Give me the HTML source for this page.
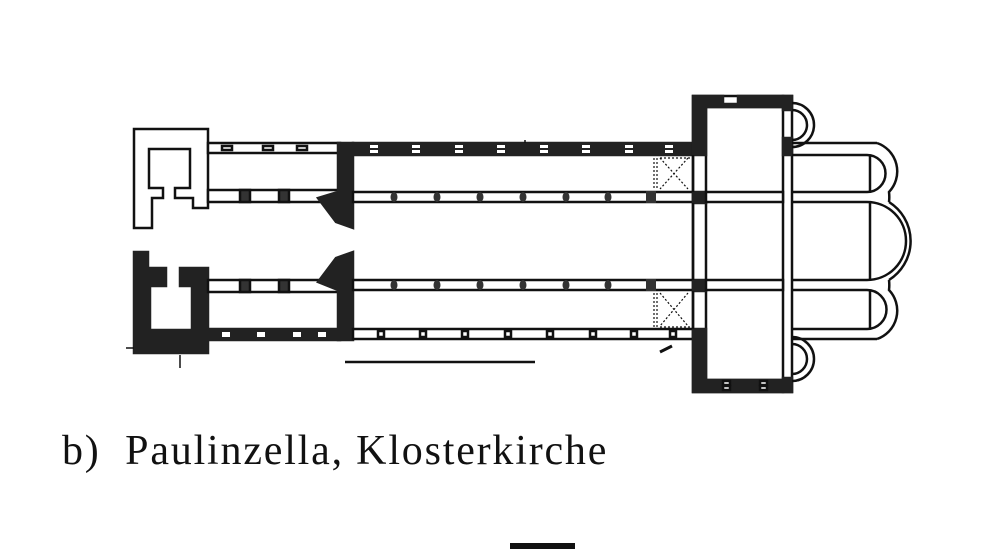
<!DOCTYPE html>
<html><head><meta charset="utf-8"><style>
html,body{margin:0;padding:0;background:#fff;width:1000px;height:550px;overflow:hidden}
svg{position:absolute;left:0;top:0}
.t{position:absolute;left:62px;top:427px;font-family:"Liberation Serif",serif;font-size:42px;color:#111;white-space:nowrap;letter-spacing:1.8px}
</style></head><body>
<svg width="1000" height="550" viewBox="0 0 1000 550" fill="none" stroke="#111" stroke-width="2.5">
<!-- west block top (outline) -->
<path d="M134 129 H208 V208 H193 V198 H175 V188 H190 V149 H149 V188 H163 V198 H152 V228 H134 Z" fill="#fff"/>
<!-- west block bottom (dark) -->
<path d="M134 252 H148 V268 H166 V286 H150 V330 H192 V286 H180 V268 H208 V353 H134 Z" fill="#222" stroke="#222"/>
<!-- upper aisle outer wall west -->
<rect x="208" y="143" width="132" height="10" fill="#fff"/>
<g fill="#fff">
<rect x="222" y="146" width="10" height="4"/><rect x="263" y="146" width="10" height="4"/><rect x="297" y="146" width="10" height="4"/>
</g>
<rect x="208" y="190" width="132" height="12" fill="#fff"/>
<rect x="240" y="190" width="10" height="12" fill="#333"/><rect x="279" y="190" width="10" height="12" fill="#333"/>
<path d="M338 143 H353 V228 L336 222 L318 198 L338 192 Z" fill="#222" stroke="#222"/>
<rect x="208" y="280" width="132" height="12" fill="#fff"/>
<rect x="240" y="280" width="10" height="12" fill="#333"/><rect x="279" y="280" width="10" height="12" fill="#333"/>
<path d="M338 340 H353 V252 L336 258 L318 282 L338 290 Z" fill="#222" stroke="#222"/>
<rect x="208" y="329" width="132" height="11" fill="#222" stroke="#222"/>
<g fill="#fff" stroke="none"><rect x="222" y="332" width="8" height="5"/><rect x="257" y="332" width="8" height="5"/><rect x="293" y="332" width="8" height="5"/><rect x="318" y="332" width="8" height="5"/></g>
<rect x="353" y="143" width="340" height="12" fill="#222" stroke="#222"/>
<g fill="#fff" stroke="none">
<rect x="370" y="145" width="8" height="3"/><rect x="370" y="150" width="8" height="3"/>
<rect x="412" y="145" width="8" height="3"/><rect x="412" y="150" width="8" height="3"/>
<rect x="455" y="145" width="8" height="3"/><rect x="455" y="150" width="8" height="3"/>
<rect x="497" y="145" width="8" height="3"/><rect x="497" y="150" width="8" height="3"/>
<rect x="540" y="145" width="8" height="3"/><rect x="540" y="150" width="8" height="3"/>
<rect x="582" y="145" width="8" height="3"/><rect x="582" y="150" width="8" height="3"/>
<rect x="625" y="145" width="8" height="3"/><rect x="625" y="150" width="8" height="3"/>
<rect x="665" y="145" width="8" height="3"/><rect x="665" y="150" width="8" height="3"/>
</g>
<rect x="353" y="192" width="340" height="10" fill="#fff"/>
<rect x="353" y="280" width="340" height="10" fill="#fff"/>
<g fill="#333" stroke="none">
<ellipse cx="394" cy="197" rx="3.5" ry="5"/><ellipse cx="437" cy="197" rx="3.5" ry="5"/><ellipse cx="480" cy="197" rx="3.5" ry="5"/><ellipse cx="523" cy="197" rx="3.5" ry="5"/><ellipse cx="566" cy="197" rx="3.5" ry="5"/><ellipse cx="608" cy="197" rx="3.5" ry="5"/>
<ellipse cx="394" cy="285" rx="3.5" ry="5"/><ellipse cx="437" cy="285" rx="3.5" ry="5"/><ellipse cx="480" cy="285" rx="3.5" ry="5"/><ellipse cx="523" cy="285" rx="3.5" ry="5"/><ellipse cx="566" cy="285" rx="3.5" ry="5"/><ellipse cx="608" cy="285" rx="3.5" ry="5"/>
<rect x="646" y="191" width="10" height="12"/><rect x="646" y="279" width="10" height="12"/>
</g>
<rect x="353" y="329" width="340" height="10" fill="#fff"/>
<g fill="#fff"><rect x="378" y="331" width="6" height="6"/><rect x="420" y="331" width="6" height="6"/><rect x="462" y="331" width="6" height="6"/><rect x="505" y="331" width="6" height="6"/><rect x="547" y="331" width="6" height="6"/><rect x="590" y="331" width="6" height="6"/><rect x="631" y="331" width="6" height="6"/><rect x="670" y="331" width="6" height="6"/></g>
<g stroke-width="1.2" stroke-dasharray="2 2">
<path d="M654 158 V190 M657 158 V190 M660 158 H690 M660 158 L688 189 M688 158 L660 189"/>
<path d="M654 293 V327 M657 293 V327 M660 327 H690 M660 293 L688 326 M688 293 L660 326"/>
</g>
<path d="M660 352 L672 346" stroke-width="3"/>
<!-- transept -->
<rect x="693" y="96" width="99" height="296" fill="#fff"/>
<rect x="706" y="107" width="77" height="273" fill="#fff"/>
<g fill="#222" stroke="#222">
<path d="M693 96 H723 V104 H738 V96 H783 V107 H706 V155 H693 Z"/>
<path d="M693 329 H706 V380 H783 V392 H693 Z"/>
<rect x="783" y="96" width="9" height="14"/>
<rect x="783" y="138" width="9" height="17"/>
<rect x="783" y="378" width="9" height="14"/>
</g>
<rect x="693" y="192" width="13" height="11" fill="#222" stroke="#222"/>
<rect x="693" y="280" width="13" height="11" fill="#222" stroke="#222"/>
<path d="M693 155 V192 M693 203 V280 M693 291 V329"/>
<rect x="706" y="192" width="77" height="10" fill="#fff"/>
<rect x="706" y="280" width="77" height="10" fill="#fff"/>
<g fill="#fff"><rect x="723" y="381" width="7" height="4"/><rect x="723" y="386" width="7" height="4"/><rect x="760" y="381" width="7" height="4"/><rect x="760" y="386" width="7" height="4"/></g>
<!-- choir -->
<path d="M792 143 H877 M792 155 H867 M792 192 H867 M792 202 H867 M792 280 H867 M792 290 H867 M792 329 H867 M792 339 H877"/>
<path d="M870 155 V192 M870 202 V280 M870 290 V329"/>
<path d="M877 143 A30 30 0 0 1 889 192 A42 42 0 0 1 889 202 M867 155 A18 18 0 0 1 867 192"/>
<path d="M877 339 A30 30 0 0 0 889 290 A42 42 0 0 0 889 280 M867 329 A18 18 0 0 0 867 290"/>
<path d="M889 202 A46 46 0 0 1 889 280 M867 202 A36 36 0 0 1 867 280"/>
<path d="M792 103 A22 22 0 0 1 792 147 M792 110 A15 15 0 0 1 792 140"/>
<path d="M792 337 A22 22 0 0 1 792 381 M792 344 A15 15 0 0 1 792 374"/>
<path d="M345 362 H535" stroke-width="2.5"/>
<path d="M180 355 V368 M126 348 H134" stroke-width="1.5"/>
<path d="M525 140 V143" stroke-width="1.5"/>
<path d="M510 546 H575" stroke-width="6"/>
</svg>
<div class="t">b)&nbsp; Paulinzella, Klosterkirche</div>
</body></html>
